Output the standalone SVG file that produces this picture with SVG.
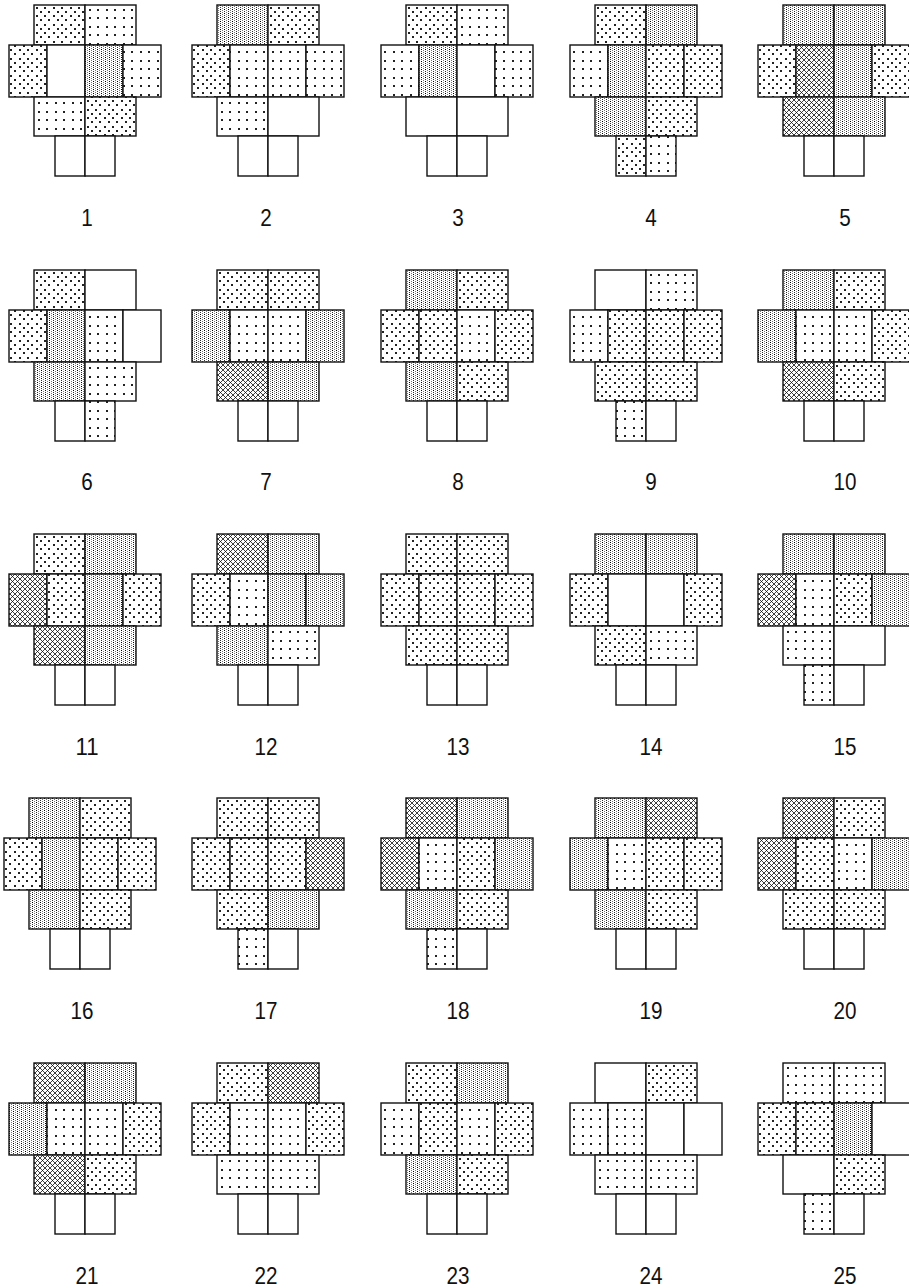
<svg xmlns="http://www.w3.org/2000/svg" width="909" height="1288" viewBox="0 0 909 1288">
<style>
.fig rect{stroke:#111;stroke-width:1.4}
.W{fill:#fff}.S{fill:url(#pS)}.M{fill:url(#pM)}.D{fill:url(#pD)}.X{fill:url(#pX)}
.lbl{font-family:"Liberation Sans",Arial,sans-serif;font-size:24px;fill:#111;text-anchor:middle}
</style>
<defs>
<pattern id="pS" width="17" height="17" patternUnits="userSpaceOnUse"><rect width="17" height="17" fill="#fff"/><g fill="#222"><rect x="4" y="4" width="2" height="2"/><rect x="12" y="4" width="2" height="2"/><rect x="4" y="12" width="2" height="2"/><rect x="12" y="12" width="2" height="2"/></g></pattern>
<pattern id="pM" width="17" height="17" patternUnits="userSpaceOnUse"><rect width="17" height="17" fill="#fff"/><g fill="#222"><rect x="2" y="2" width="2" height="2"/><rect x="10" y="2" width="2" height="2"/><rect x="2" y="10" width="2" height="2"/><rect x="10" y="10" width="2" height="2"/><rect x="6" y="6" width="2" height="2"/><rect x="14" y="6" width="2" height="2"/><rect x="6" y="14" width="2" height="2"/><rect x="14" y="14" width="2" height="2"/></g></pattern>
<pattern id="pD" width="4" height="4" patternUnits="userSpaceOnUse"><rect width="4" height="4" fill="#fff"/><rect x="0" y="0" width="1" height="1" fill="#000"/><rect x="0" y="2" width="1" height="1" fill="#333"/><rect x="2" y="1" width="1" height="1" fill="#777"/><rect x="2" y="3" width="1" height="1" fill="#777"/></pattern>
<pattern id="pX" width="5" height="5" patternUnits="userSpaceOnUse"><rect width="5" height="5" fill="#fff"/><path d="M-1 -1L6 6M6 -1L-1 6" stroke="#000" stroke-width="0.75"/></pattern>
</defs>
<rect width="909" height="1288" fill="#fff"/>

<g id="fig-1" class="fig" transform="translate(85,5)">
<rect class="M" x="-51" y="0" width="51" height="40"/><rect class="S" x="0" y="0" width="51" height="40"/>
<rect class="M" x="-76" y="40" width="38" height="52"/><rect class="W" x="-38" y="40" width="38" height="52"/><rect class="D" x="0" y="40" width="38" height="52"/><rect class="S" x="38" y="40" width="38" height="52"/>
<rect class="S" x="-51" y="92" width="51" height="39"/><rect class="M" x="0" y="92" width="51" height="39"/>
<rect class="W" x="-30" y="131" width="30" height="40"/><rect class="W" x="0" y="131" width="30" height="40"/>
</g>
<g id="fig-2" class="fig" transform="translate(268,5)">
<rect class="D" x="-51" y="0" width="51" height="40"/><rect class="M" x="0" y="0" width="51" height="40"/>
<rect class="M" x="-76" y="40" width="38" height="52"/><rect class="S" x="-38" y="40" width="38" height="52"/><rect class="S" x="0" y="40" width="38" height="52"/><rect class="S" x="38" y="40" width="38" height="52"/>
<rect class="S" x="-51" y="92" width="51" height="39"/><rect class="W" x="0" y="92" width="51" height="39"/>
<rect class="W" x="-30" y="131" width="30" height="40"/><rect class="W" x="0" y="131" width="30" height="40"/>
</g>
<g id="fig-3" class="fig" transform="translate(457,5)">
<rect class="M" x="-51" y="0" width="51" height="40"/><rect class="S" x="0" y="0" width="51" height="40"/>
<rect class="S" x="-76" y="40" width="38" height="52"/><rect class="D" x="-38" y="40" width="38" height="52"/><rect class="W" x="0" y="40" width="38" height="52"/><rect class="S" x="38" y="40" width="38" height="52"/>
<rect class="W" x="-51" y="92" width="51" height="39"/><rect class="W" x="0" y="92" width="51" height="39"/>
<rect class="W" x="-30" y="131" width="30" height="40"/><rect class="W" x="0" y="131" width="30" height="40"/>
</g>
<g id="fig-4" class="fig" transform="translate(646,5)">
<rect class="M" x="-51" y="0" width="51" height="40"/><rect class="D" x="0" y="0" width="51" height="40"/>
<rect class="S" x="-76" y="40" width="38" height="52"/><rect class="D" x="-38" y="40" width="38" height="52"/><rect class="M" x="0" y="40" width="38" height="52"/><rect class="M" x="38" y="40" width="38" height="52"/>
<rect class="D" x="-51" y="92" width="51" height="39"/><rect class="M" x="0" y="92" width="51" height="39"/>
<rect class="M" x="-30" y="131" width="30" height="40"/><rect class="S" x="0" y="131" width="30" height="40"/>
</g>
<g id="fig-5" class="fig" transform="translate(834,5)">
<rect class="D" x="-51" y="0" width="51" height="40"/><rect class="D" x="0" y="0" width="51" height="40"/>
<rect class="M" x="-76" y="40" width="38" height="52"/><rect class="X" x="-38" y="40" width="38" height="52"/><rect class="D" x="0" y="40" width="38" height="52"/><rect class="M" x="38" y="40" width="38" height="52"/>
<rect class="X" x="-51" y="92" width="51" height="39"/><rect class="D" x="0" y="92" width="51" height="39"/>
<rect class="W" x="-30" y="131" width="30" height="40"/><rect class="W" x="0" y="131" width="30" height="40"/>
</g>

<g id="fig-6" class="fig" transform="translate(85,270)">
<rect class="M" x="-51" y="0" width="51" height="40"/><rect class="W" x="0" y="0" width="51" height="40"/>
<rect class="M" x="-76" y="40" width="38" height="52"/><rect class="D" x="-38" y="40" width="38" height="52"/><rect class="S" x="0" y="40" width="38" height="52"/><rect class="W" x="38" y="40" width="38" height="52"/>
<rect class="D" x="-51" y="92" width="51" height="39"/><rect class="S" x="0" y="92" width="51" height="39"/>
<rect class="W" x="-30" y="131" width="30" height="40"/><rect class="S" x="0" y="131" width="30" height="40"/>
</g>
<g id="fig-7" class="fig" transform="translate(268,270)">
<rect class="M" x="-51" y="0" width="51" height="40"/><rect class="M" x="0" y="0" width="51" height="40"/>
<rect class="D" x="-76" y="40" width="38" height="52"/><rect class="S" x="-38" y="40" width="38" height="52"/><rect class="S" x="0" y="40" width="38" height="52"/><rect class="D" x="38" y="40" width="38" height="52"/>
<rect class="X" x="-51" y="92" width="51" height="39"/><rect class="D" x="0" y="92" width="51" height="39"/>
<rect class="W" x="-30" y="131" width="30" height="40"/><rect class="W" x="0" y="131" width="30" height="40"/>
</g>
<g id="fig-8" class="fig" transform="translate(457,270)">
<rect class="D" x="-51" y="0" width="51" height="40"/><rect class="M" x="0" y="0" width="51" height="40"/>
<rect class="M" x="-76" y="40" width="38" height="52"/><rect class="M" x="-38" y="40" width="38" height="52"/><rect class="S" x="0" y="40" width="38" height="52"/><rect class="M" x="38" y="40" width="38" height="52"/>
<rect class="D" x="-51" y="92" width="51" height="39"/><rect class="M" x="0" y="92" width="51" height="39"/>
<rect class="W" x="-30" y="131" width="30" height="40"/><rect class="W" x="0" y="131" width="30" height="40"/>
</g>
<g id="fig-9" class="fig" transform="translate(646,270)">
<rect class="W" x="-51" y="0" width="51" height="40"/><rect class="S" x="0" y="0" width="51" height="40"/>
<rect class="S" x="-76" y="40" width="38" height="52"/><rect class="M" x="-38" y="40" width="38" height="52"/><rect class="M" x="0" y="40" width="38" height="52"/><rect class="M" x="38" y="40" width="38" height="52"/>
<rect class="M" x="-51" y="92" width="51" height="39"/><rect class="M" x="0" y="92" width="51" height="39"/>
<rect class="S" x="-30" y="131" width="30" height="40"/><rect class="W" x="0" y="131" width="30" height="40"/>
</g>
<g id="fig-10" class="fig" transform="translate(834,270)">
<rect class="D" x="-51" y="0" width="51" height="40"/><rect class="M" x="0" y="0" width="51" height="40"/>
<rect class="D" x="-76" y="40" width="38" height="52"/><rect class="S" x="-38" y="40" width="38" height="52"/><rect class="S" x="0" y="40" width="38" height="52"/><rect class="M" x="38" y="40" width="38" height="52"/>
<rect class="X" x="-51" y="92" width="51" height="39"/><rect class="M" x="0" y="92" width="51" height="39"/>
<rect class="W" x="-30" y="131" width="30" height="40"/><rect class="W" x="0" y="131" width="30" height="40"/>
</g>

<g id="fig-11" class="fig" transform="translate(85,534)">
<rect class="M" x="-51" y="0" width="51" height="40"/><rect class="D" x="0" y="0" width="51" height="40"/>
<rect class="X" x="-76" y="40" width="38" height="52"/><rect class="M" x="-38" y="40" width="38" height="52"/><rect class="D" x="0" y="40" width="38" height="52"/><rect class="M" x="38" y="40" width="38" height="52"/>
<rect class="X" x="-51" y="92" width="51" height="39"/><rect class="D" x="0" y="92" width="51" height="39"/>
<rect class="W" x="-30" y="131" width="30" height="40"/><rect class="W" x="0" y="131" width="30" height="40"/>
</g>
<g id="fig-12" class="fig" transform="translate(268,534)">
<rect class="X" x="-51" y="0" width="51" height="40"/><rect class="D" x="0" y="0" width="51" height="40"/>
<rect class="M" x="-76" y="40" width="38" height="52"/><rect class="S" x="-38" y="40" width="38" height="52"/><rect class="D" x="0" y="40" width="38" height="52"/><rect class="D" x="38" y="40" width="38" height="52"/>
<rect class="D" x="-51" y="92" width="51" height="39"/><rect class="S" x="0" y="92" width="51" height="39"/>
<rect class="W" x="-30" y="131" width="30" height="40"/><rect class="W" x="0" y="131" width="30" height="40"/>
</g>
<g id="fig-13" class="fig" transform="translate(457,534)">
<rect class="M" x="-51" y="0" width="51" height="40"/><rect class="M" x="0" y="0" width="51" height="40"/>
<rect class="M" x="-76" y="40" width="38" height="52"/><rect class="M" x="-38" y="40" width="38" height="52"/><rect class="M" x="0" y="40" width="38" height="52"/><rect class="M" x="38" y="40" width="38" height="52"/>
<rect class="M" x="-51" y="92" width="51" height="39"/><rect class="M" x="0" y="92" width="51" height="39"/>
<rect class="W" x="-30" y="131" width="30" height="40"/><rect class="W" x="0" y="131" width="30" height="40"/>
</g>
<g id="fig-14" class="fig" transform="translate(646,534)">
<rect class="D" x="-51" y="0" width="51" height="40"/><rect class="D" x="0" y="0" width="51" height="40"/>
<rect class="M" x="-76" y="40" width="38" height="52"/><rect class="W" x="-38" y="40" width="38" height="52"/><rect class="W" x="0" y="40" width="38" height="52"/><rect class="M" x="38" y="40" width="38" height="52"/>
<rect class="M" x="-51" y="92" width="51" height="39"/><rect class="S" x="0" y="92" width="51" height="39"/>
<rect class="W" x="-30" y="131" width="30" height="40"/><rect class="W" x="0" y="131" width="30" height="40"/>
</g>
<g id="fig-15" class="fig" transform="translate(834,534)">
<rect class="D" x="-51" y="0" width="51" height="40"/><rect class="D" x="0" y="0" width="51" height="40"/>
<rect class="X" x="-76" y="40" width="38" height="52"/><rect class="S" x="-38" y="40" width="38" height="52"/><rect class="M" x="0" y="40" width="38" height="52"/><rect class="D" x="38" y="40" width="38" height="52"/>
<rect class="S" x="-51" y="92" width="51" height="39"/><rect class="W" x="0" y="92" width="51" height="39"/>
<rect class="S" x="-30" y="131" width="30" height="40"/><rect class="W" x="0" y="131" width="30" height="40"/>
</g>

<g id="fig-16" class="fig" transform="translate(80,798)">
<rect class="D" x="-51" y="0" width="51" height="40"/><rect class="M" x="0" y="0" width="51" height="40"/>
<rect class="M" x="-76" y="40" width="38" height="52"/><rect class="D" x="-38" y="40" width="38" height="52"/><rect class="M" x="0" y="40" width="38" height="52"/><rect class="M" x="38" y="40" width="38" height="52"/>
<rect class="D" x="-51" y="92" width="51" height="39"/><rect class="M" x="0" y="92" width="51" height="39"/>
<rect class="W" x="-30" y="131" width="30" height="40"/><rect class="W" x="0" y="131" width="30" height="40"/>
</g>
<g id="fig-17" class="fig" transform="translate(268,798)">
<rect class="M" x="-51" y="0" width="51" height="40"/><rect class="M" x="0" y="0" width="51" height="40"/>
<rect class="M" x="-76" y="40" width="38" height="52"/><rect class="M" x="-38" y="40" width="38" height="52"/><rect class="M" x="0" y="40" width="38" height="52"/><rect class="X" x="38" y="40" width="38" height="52"/>
<rect class="M" x="-51" y="92" width="51" height="39"/><rect class="D" x="0" y="92" width="51" height="39"/>
<rect class="S" x="-30" y="131" width="30" height="40"/><rect class="W" x="0" y="131" width="30" height="40"/>
</g>
<g id="fig-18" class="fig" transform="translate(457,798)">
<rect class="X" x="-51" y="0" width="51" height="40"/><rect class="D" x="0" y="0" width="51" height="40"/>
<rect class="X" x="-76" y="40" width="38" height="52"/><rect class="S" x="-38" y="40" width="38" height="52"/><rect class="M" x="0" y="40" width="38" height="52"/><rect class="D" x="38" y="40" width="38" height="52"/>
<rect class="D" x="-51" y="92" width="51" height="39"/><rect class="M" x="0" y="92" width="51" height="39"/>
<rect class="S" x="-30" y="131" width="30" height="40"/><rect class="W" x="0" y="131" width="30" height="40"/>
</g>
<g id="fig-19" class="fig" transform="translate(646,798)">
<rect class="D" x="-51" y="0" width="51" height="40"/><rect class="X" x="0" y="0" width="51" height="40"/>
<rect class="D" x="-76" y="40" width="38" height="52"/><rect class="S" x="-38" y="40" width="38" height="52"/><rect class="M" x="0" y="40" width="38" height="52"/><rect class="M" x="38" y="40" width="38" height="52"/>
<rect class="D" x="-51" y="92" width="51" height="39"/><rect class="M" x="0" y="92" width="51" height="39"/>
<rect class="W" x="-30" y="131" width="30" height="40"/><rect class="W" x="0" y="131" width="30" height="40"/>
</g>
<g id="fig-20" class="fig" transform="translate(834,798)">
<rect class="X" x="-51" y="0" width="51" height="40"/><rect class="M" x="0" y="0" width="51" height="40"/>
<rect class="X" x="-76" y="40" width="38" height="52"/><rect class="M" x="-38" y="40" width="38" height="52"/><rect class="S" x="0" y="40" width="38" height="52"/><rect class="D" x="38" y="40" width="38" height="52"/>
<rect class="M" x="-51" y="92" width="51" height="39"/><rect class="M" x="0" y="92" width="51" height="39"/>
<rect class="W" x="-30" y="131" width="30" height="40"/><rect class="W" x="0" y="131" width="30" height="40"/>
</g>

<g id="fig-21" class="fig" transform="translate(85,1063)">
<rect class="X" x="-51" y="0" width="51" height="40"/><rect class="D" x="0" y="0" width="51" height="40"/>
<rect class="D" x="-76" y="40" width="38" height="52"/><rect class="S" x="-38" y="40" width="38" height="52"/><rect class="S" x="0" y="40" width="38" height="52"/><rect class="M" x="38" y="40" width="38" height="52"/>
<rect class="X" x="-51" y="92" width="51" height="39"/><rect class="M" x="0" y="92" width="51" height="39"/>
<rect class="W" x="-30" y="131" width="30" height="40"/><rect class="W" x="0" y="131" width="30" height="40"/>
</g>
<g id="fig-22" class="fig" transform="translate(268,1063)">
<rect class="M" x="-51" y="0" width="51" height="40"/><rect class="X" x="0" y="0" width="51" height="40"/>
<rect class="M" x="-76" y="40" width="38" height="52"/><rect class="S" x="-38" y="40" width="38" height="52"/><rect class="S" x="0" y="40" width="38" height="52"/><rect class="M" x="38" y="40" width="38" height="52"/>
<rect class="S" x="-51" y="92" width="51" height="39"/><rect class="S" x="0" y="92" width="51" height="39"/>
<rect class="W" x="-30" y="131" width="30" height="40"/><rect class="W" x="0" y="131" width="30" height="40"/>
</g>
<g id="fig-23" class="fig" transform="translate(457,1063)">
<rect class="M" x="-51" y="0" width="51" height="40"/><rect class="D" x="0" y="0" width="51" height="40"/>
<rect class="S" x="-76" y="40" width="38" height="52"/><rect class="M" x="-38" y="40" width="38" height="52"/><rect class="S" x="0" y="40" width="38" height="52"/><rect class="M" x="38" y="40" width="38" height="52"/>
<rect class="D" x="-51" y="92" width="51" height="39"/><rect class="M" x="0" y="92" width="51" height="39"/>
<rect class="W" x="-30" y="131" width="30" height="40"/><rect class="W" x="0" y="131" width="30" height="40"/>
</g>
<g id="fig-24" class="fig" transform="translate(646,1063)">
<rect class="W" x="-51" y="0" width="51" height="40"/><rect class="M" x="0" y="0" width="51" height="40"/>
<rect class="S" x="-76" y="40" width="38" height="52"/><rect class="S" x="-38" y="40" width="38" height="52"/><rect class="W" x="0" y="40" width="38" height="52"/><rect class="W" x="38" y="40" width="38" height="52"/>
<rect class="S" x="-51" y="92" width="51" height="39"/><rect class="S" x="0" y="92" width="51" height="39"/>
<rect class="W" x="-30" y="131" width="30" height="40"/><rect class="W" x="0" y="131" width="30" height="40"/>
</g>
<g id="fig-25" class="fig" transform="translate(834,1063)">
<rect class="S" x="-51" y="0" width="51" height="40"/><rect class="S" x="0" y="0" width="51" height="40"/>
<rect class="M" x="-76" y="40" width="38" height="52"/><rect class="M" x="-38" y="40" width="38" height="52"/><rect class="D" x="0" y="40" width="38" height="52"/><rect class="W" x="38" y="40" width="38" height="52"/>
<rect class="W" x="-51" y="92" width="51" height="39"/><rect class="M" x="0" y="92" width="51" height="39"/>
<rect class="S" x="-30" y="131" width="30" height="40"/><rect class="W" x="0" y="131" width="30" height="40"/>
</g>

<g id="labels">
<text class="lbl" x="87" y="226" textLength="11.5" lengthAdjust="spacingAndGlyphs">1</text><text class="lbl" x="266" y="226" textLength="11.5" lengthAdjust="spacingAndGlyphs">2</text><text class="lbl" x="458" y="226" textLength="11.5" lengthAdjust="spacingAndGlyphs">3</text><text class="lbl" x="651" y="226" textLength="11.5" lengthAdjust="spacingAndGlyphs">4</text><text class="lbl" x="845" y="226" textLength="11.5" lengthAdjust="spacingAndGlyphs">5</text>
<text class="lbl" x="87" y="490" textLength="11.5" lengthAdjust="spacingAndGlyphs">6</text><text class="lbl" x="266" y="490" textLength="11.5" lengthAdjust="spacingAndGlyphs">7</text><text class="lbl" x="458" y="490" textLength="11.5" lengthAdjust="spacingAndGlyphs">8</text><text class="lbl" x="651" y="490" textLength="11.5" lengthAdjust="spacingAndGlyphs">9</text><text class="lbl" x="845" y="490" textLength="23" lengthAdjust="spacingAndGlyphs">10</text>
<text class="lbl" x="87" y="755" textLength="23" lengthAdjust="spacingAndGlyphs">11</text><text class="lbl" x="266" y="755" textLength="23" lengthAdjust="spacingAndGlyphs">12</text><text class="lbl" x="458" y="755" textLength="23" lengthAdjust="spacingAndGlyphs">13</text><text class="lbl" x="651" y="755" textLength="23" lengthAdjust="spacingAndGlyphs">14</text><text class="lbl" x="845" y="755" textLength="23" lengthAdjust="spacingAndGlyphs">15</text>
<text class="lbl" x="82" y="1019" textLength="23" lengthAdjust="spacingAndGlyphs">16</text><text class="lbl" x="266" y="1019" textLength="23" lengthAdjust="spacingAndGlyphs">17</text><text class="lbl" x="458" y="1019" textLength="23" lengthAdjust="spacingAndGlyphs">18</text><text class="lbl" x="651" y="1019" textLength="23" lengthAdjust="spacingAndGlyphs">19</text><text class="lbl" x="845" y="1019" textLength="23" lengthAdjust="spacingAndGlyphs">20</text>
<text class="lbl" x="87" y="1284" textLength="23" lengthAdjust="spacingAndGlyphs">21</text><text class="lbl" x="266" y="1284" textLength="23" lengthAdjust="spacingAndGlyphs">22</text><text class="lbl" x="458" y="1284" textLength="23" lengthAdjust="spacingAndGlyphs">23</text><text class="lbl" x="651" y="1284" textLength="23" lengthAdjust="spacingAndGlyphs">24</text><text class="lbl" x="845" y="1284" textLength="23" lengthAdjust="spacingAndGlyphs">25</text>
</g>
</svg>
